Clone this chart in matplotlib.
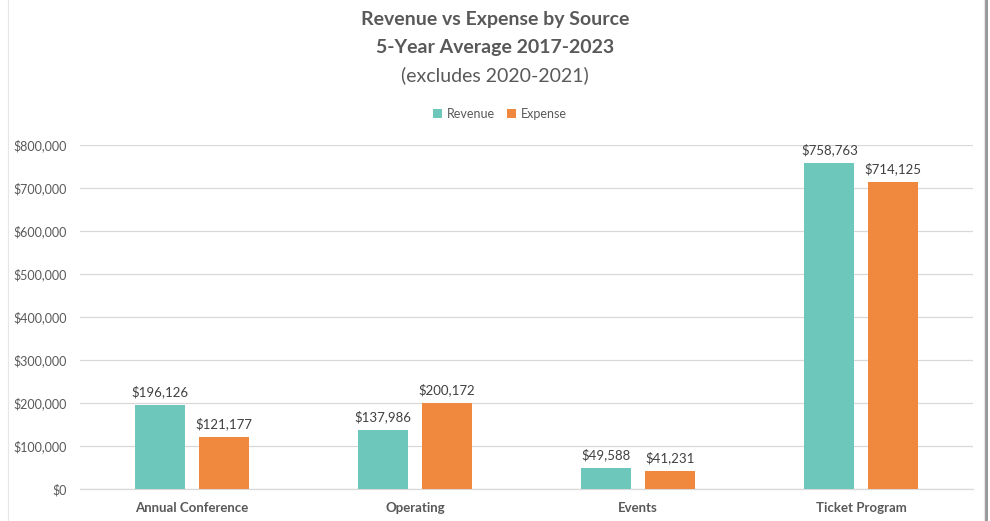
import matplotlib
matplotlib.use("Agg")
import matplotlib.pyplot as plt
import numpy as np
from matplotlib.ticker import FuncFormatter
from matplotlib.patches import Rectangle

categories = ["Annual Conference", "Operating", "Events", "Ticket Program"]
revenue = [196126, 137986, 49588, 758763]
expense = [121177, 200172, 41231, 714125]
series_names = ["Revenue", "Expense"]
yticks = [0, 100000, 200000, 300000, 400000, 500000, 600000, 700000, 800000]

plt.rcParams['font.family'] = ['Lato', 'DejaVu Sans']
TXT = '#595959'
C_REV = '#6DC8BB'
C_EXP = '#F0883D'

fig = plt.figure(figsize=(9.9, 5.21), dpi=100)
fig.patch.set_facecolor('white')

# border + shadow
fig.add_artist(Rectangle((984/990, 0), 4/990, 1, transform=fig.transFigure,
                         facecolor='#9a9a9a', edgecolor='none', zorder=0))
fig.add_artist(Rectangle((8/990, -0.01), 976/990, 1.02, transform=fig.transFigure,
                         facecolor='none', edgecolor='#e6e6e6', lw=0.8, zorder=0))

ax = fig.add_axes([80/990, 1 - 489/521, (973 - 80)/990, (489 - 145)/521])
x = np.arange(len(categories))
w = 0.224
off = 0.143
b1 = ax.bar(x - off, revenue, w, color=C_REV, label=series_names[0], zorder=3)
b2 = ax.bar(x + off, expense, w, color=C_EXP, label=series_names[1], zorder=3)

for bars in (b1, b2):
    for r in bars:
        v = r.get_height()
        ax.annotate(f"${v:,.0f}", (r.get_x() + r.get_width() / 2, v),
                    xytext=(0, 5), textcoords='offset points', ha='center', va='bottom',
                    fontsize=9.5, color='#404040')

ax.set_xlim(-0.5, len(categories) - 0.5)
ax.set_ylim(0, 800000)
ax.set_yticks(yticks)
ax.yaxis.set_major_formatter(FuncFormatter(lambda v, p: f"${v:,.0f}"))
ax.set_xticks(x)
ax.set_xticklabels(categories, fontweight='bold', fontsize=9.5, color=TXT)
ax.tick_params(axis='y', length=0, labelsize=9, labelcolor=TXT, pad=9.5)
ax.tick_params(axis='x', length=0, pad=9.5)
ax.grid(axis='y', color='#d9d9d9', lw=0.9, zorder=0)
ax.set_axisbelow(True)
for s in ['top', 'right', 'left']:
    ax.spines[s].set_visible(False)
ax.spines['bottom'].set_color('#d9d9d9')
ax.spines['bottom'].set_linewidth(0.9)

fig.text(0.5, 1 - 20/521, "Revenue vs Expense by Source", ha='center', va='center',
         fontsize=14, fontweight='bold', color=TXT)
fig.text(0.5, 1 - 47/521, "5-Year Average 2017-2023", ha='center', va='center',
         fontsize=14, fontweight='bold', color=TXT)
fig.text(0.5, 1 - 75/521, "(excludes 2020-2021)", ha='center', va='center',
         fontsize=14, color=TXT)

leg = fig.legend(handles=[b1, b2], labels=series_names, loc='center',
                 bbox_to_anchor=(500/990, 1 - 114/521), ncol=2, frameon=False,
                 fontsize=9, handlelength=0.7, handleheight=0.7, handletextpad=0.4,
                 columnspacing=1.0)
for t in leg.get_texts():
    t.set_color(TXT)

fig.savefig("out.png", dpi=100, facecolor='white')
